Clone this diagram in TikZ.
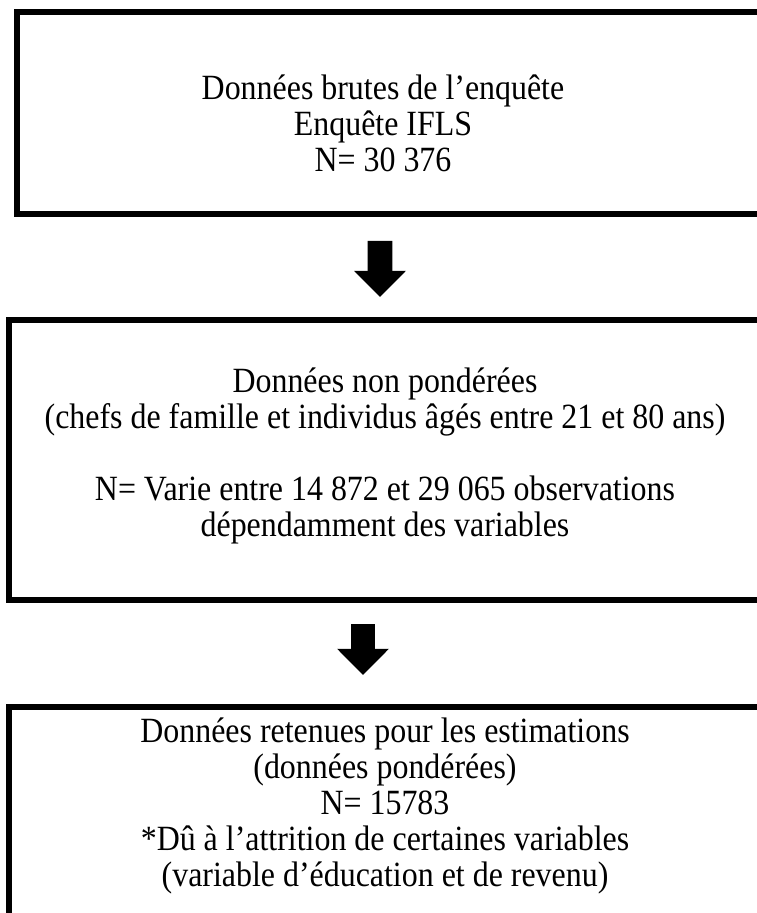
\documentclass[tikz,border=0pt]{standalone}
\usepackage{fontspec}
\setmainfont{Liberation Serif}[FakeStretch=0.9]
\usetikzlibrary{arrows.meta}

\begin{document}
\begin{tikzpicture}[x=0.375pt,y=-0.375pt,
	cadre/.style={draw, line width=2.25pt, rectangle, inner sep=0pt},
	texte/.style={align=center, inner sep=0pt, font=\fontsize{13.3pt}{13.5pt}\selectfont},
	fleche/.style={line width=9.2pt, -{Triangle[width=18.8pt,length=9.8pt]}}]
			\useasboundingbox (0,0) rectangle (757,913);
			\clip (0,0) rectangle (757,913);
			
			\node[cadre, minimum width=293.6pt, minimum height=75.9pt] (cadre1) at (408.5, 113.25) {};
			\node[cadre, minimum width=296.8pt, minimum height=105pt] (cadre2) at (404.25, 460) {};
			\node[cadre, minimum width=296.8pt, minimum height=91.3pt] (cadre3) at (404.25, 828.25) {};
			
			\node[texte] (txt1) at (383, 123) {Données brutes de l’enquête\\Enquête IFLS\\N= 30 376};
			\node[texte] (txt2) at (385, 456) {Données non pondérées\\(chefs de famille et individus âgés entre 21 et 80 ans)\\[13.5pt]N= Varie entre 14 872 et 29 065 observations\\dépendamment des variables};
			\node[texte] (txt3) at (385, 806) {Données retenues pour les estimations\\(données pondérées)\\N= 15783\\*Dû à l’attrition de certaines variables\\(variable d’éducation et de revenu)};
			
			\draw[fleche, shorten <=8.8pt, shorten >=7.5pt] ([xshift=-10.69pt]cadre1.south) to ([xshift=-9.09pt]cadre2.north);
			\draw[fleche, shorten <=7.9pt, shorten >=10.7pt] ([xshift=-15.47pt]cadre2.south) to ([xshift=-15.47pt]cadre3.north);
\end{tikzpicture}
\end{document}
